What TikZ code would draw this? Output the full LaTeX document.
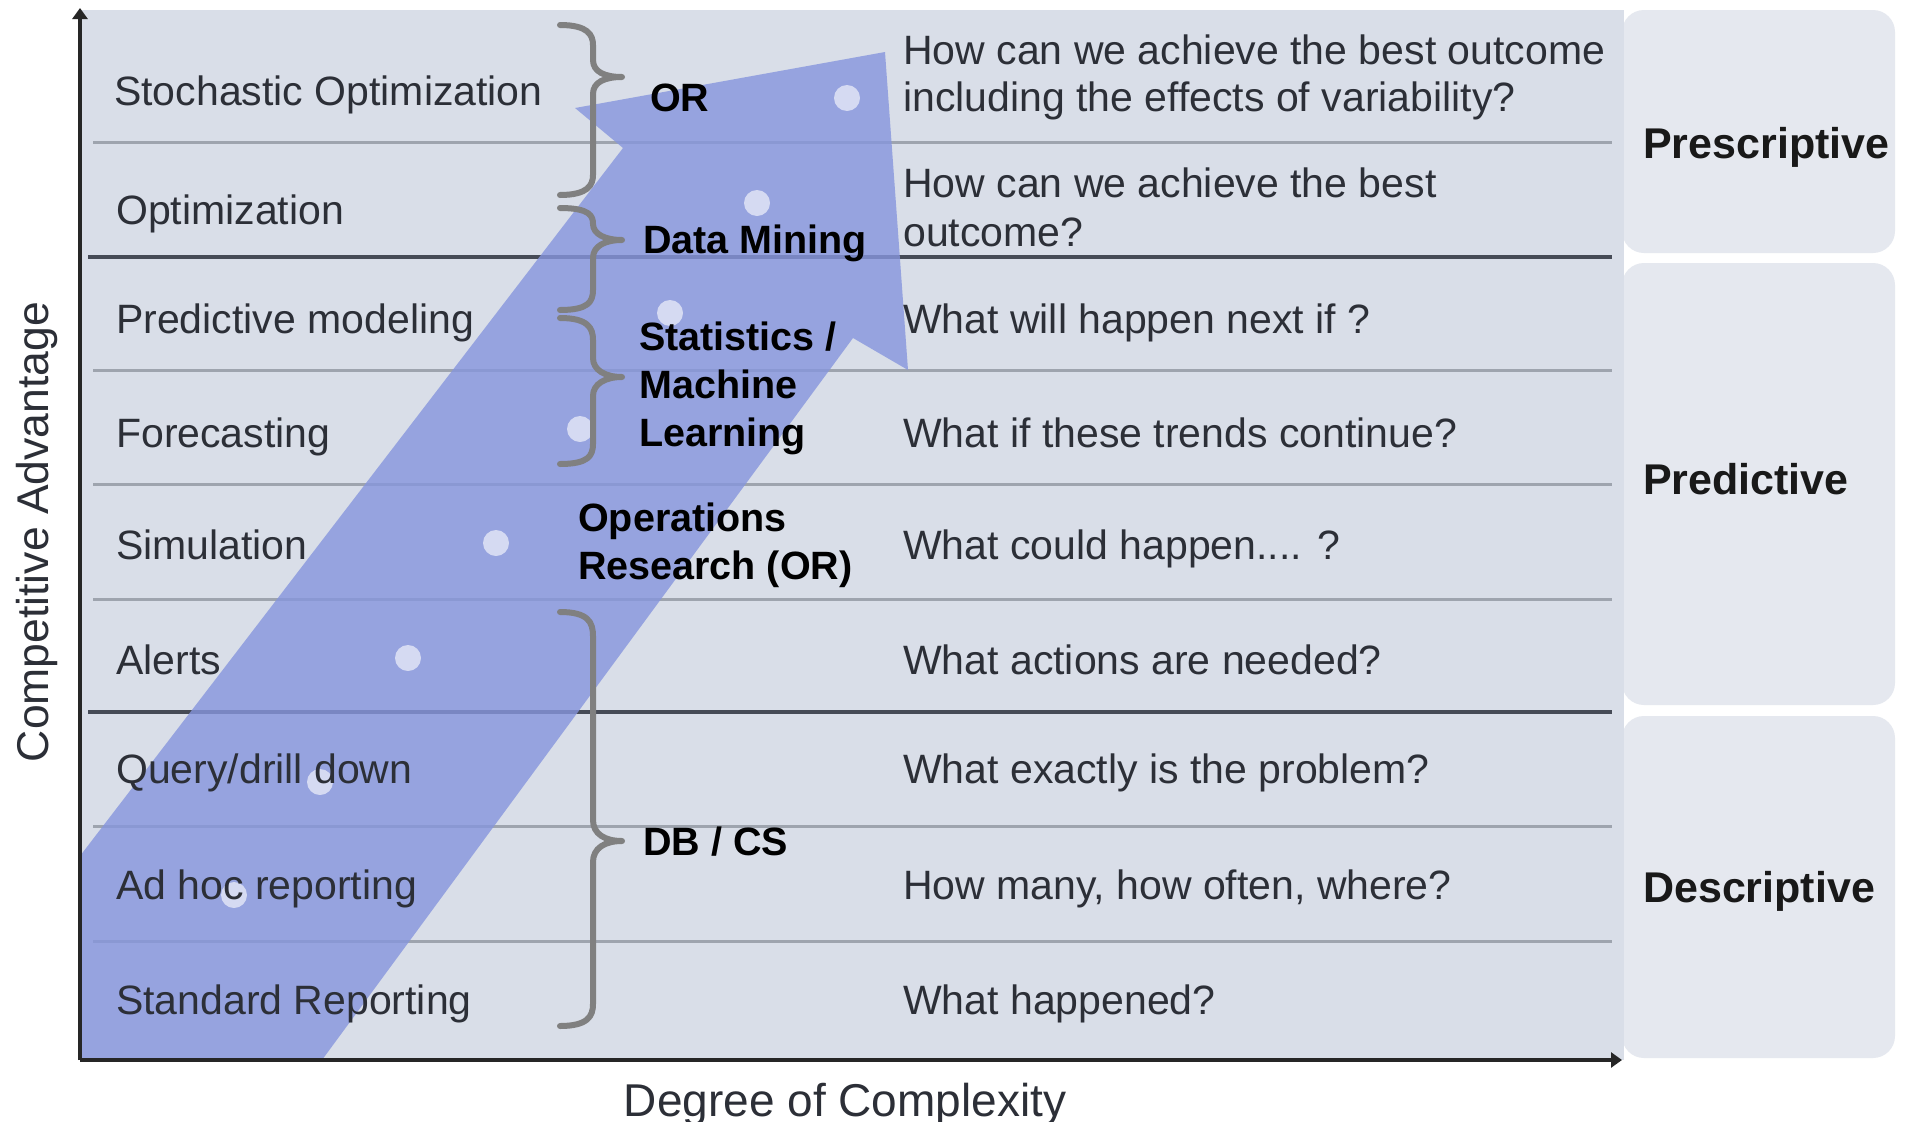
\documentclass[tikz,border=0pt]{standalone}
\usepackage{fontspec}
\setmainfont{Liberation Sans}
\usetikzlibrary{arrows.meta}
\definecolor{panel}{RGB}{217,222,232}
\definecolor{sidebox}{RGB}{229,232,239}
\definecolor{bandblue}{RGB}{134,149,221}
\definecolor{thinline}{RGB}{158,164,174}
\definecolor{thickline}{RGB}{70,75,86}
\definecolor{labelgrey}{RGB}{44,47,55}
\definecolor{bracegrey}{RGB}{128,128,128}
\begin{document}
\begin{tikzpicture}[x=1pt,y=-1pt,
  lbl/.style={anchor=base west, inner sep=0pt, text=labelgrey, font=\fontsize{41}{46}\selectfont},
  cat/.style={anchor=base west, inner sep=0pt, text=black!90, font=\fontsize{43}{48}\selectfont\bfseries},
  field/.style={anchor=base west, inner sep=0pt, text=black, font=\fontsize{39.5}{48}\selectfont\bfseries},
  axlbl/.style={inner sep=0pt, text=labelgrey, font=\fontsize{46}{50}\selectfont},
  thinrow/.style={draw=thinline, line width=3pt},
  thickrow/.style={draw=thickline, line width=4pt},
  bracestyle/.style={draw=bracegrey, line width=6pt, line cap=round, line join=round},
  axisline/.style={draw=black!85, line width=4pt, -{Triangle[length=11pt,width=15pt]}},
  dotstyle/.style={fill=white, fill opacity=0.6},
  sideboxstyle/.style={fill=sidebox, rounded corners=22pt},
]
\useasboundingbox (0,0) rectangle (1912,1122);
\fill[white] (0,0) rectangle (1912,1122);
% main panel
\fill[panel] (80,10) rectangle (1624,1060);
% side boxes
\fill[sideboxstyle] (1622,10) rectangle (1895,253);
\fill[sideboxstyle] (1622,263) rectangle (1895,705);
\fill[sideboxstyle] (1622,716) rectangle (1895,1058);
\fill[panel] (1600,10) rectangle (1624,1060);
% row lines
\foreach \yy in {142,370,484,599,826,941} \draw[thinrow] (93,\yy) -- (1612,\yy);
\foreach \yy in {257,712} \draw[thickrow] (88,\yy) -- (1612,\yy);
% blue band arrow
\fill[bandblue, fill opacity=0.8] (80,856) -- (623,148) -- (575,108) -- (885,52) -- (908,370) -- (853,338) -- (322,1060) -- (80,1060) -- cycle;
% dots
\foreach \dx/\dy in {847/98,757/203,670/313,580/429,496/543,408/658,320/782,234/895}
  \fill[dotstyle] (\dx,\dy) circle[radius=13pt];
% braces
\draw[bracestyle] (560,25) .. controls (588,25) and (593,35) .. (593,45) -- (593,60) .. controls (593,72) and (605,77) .. (622,77)
  .. controls (605,77) and (593,82) .. (593,94) -- (593,175) .. controls (593,185) and (588,195) .. (560,195);
\draw[bracestyle] (560,208) .. controls (590,208) and (593,216) .. (593,224) .. controls (593,234) and (605,240) .. (622,240)
  .. controls (605,240) and (593,246) .. (593,258) -- (593,290) .. controls (593,302) and (588,310) .. (560,310);
\draw[bracestyle] (560,318) .. controls (588,318) and (593,328) .. (593,340) -- (593,358) .. controls (593,370) and (605,377) .. (622,377)
  .. controls (605,377) and (593,384) .. (593,396) -- (593,444) .. controls (593,456) and (588,464) .. (560,464);
\draw[bracestyle] (560,612) .. controls (588,612) and (593,622) .. (593,636) -- (593,820) .. controls (593,834) and (605,841) .. (622,841)
  .. controls (605,841) and (593,848) .. (593,862) -- (593,1004) .. controls (593,1016) and (588,1026) .. (560,1026);
% left labels
\node[lbl] (l1) at (114,105) {Stochastic Optimization};
\node[lbl] (l2) at (116,224) {Optimization};
\node[lbl] (l3) at (116,333) {Predictive modeling};
\node[lbl] (l4) at (116,447) {Forecasting};
\node[lbl] (l5) at (116,559) {Simulation};
\node[lbl] (l6) at (116,674) {Alerts};
\node[lbl] (l7) at (116,783) {Query/drill down};
\node[lbl] (l8) at (116,899) {Ad hoc reporting};
\node[lbl] (l9) at (116,1014) {Standard Reporting};
% questions
\node[lbl] (q1a) at (903,64) {How can we achieve the best outcome};
\node[lbl] (q1b) at (903,111) {including the effects of variability?};
\node[lbl] (q2a) at (903,197) {How can we achieve the best};
\node[lbl] (q2b) at (903,246) {outcome?};
\node[lbl] (q3) at (903,333) {What will happen next if ?};
\node[lbl] (q4) at (903,447) {What if these trends continue?};
\node[lbl] (q5) at (903,559) {What could happen.... ?};
\node[lbl] (q6) at (903,674) {What actions are needed?};
\node[lbl] (q7) at (903,783) {What exactly is the problem?};
\node[lbl] (q8) at (903,899) {How many, how often, where?};
\node[lbl] (q9) at (903,1014) {What happened?};
% categories
\node[cat] (c1) at (1643,158) {Prescriptive};
\node[cat] (c2) at (1643,494) {Predictive};
\node[cat] (c3) at (1643,902) {Descriptive};
% fields
\node[field] (f1) at (650,111) {OR};
\node[field] (f2) at (643,253) {Data Mining};
\node[field] (f3a) at (639,350) {Statistics /};
\node[field] (f3b) at (639,398) {Machine};
\node[field] (f3c) at (639,446) {Learning};
\node[field] (f4a) at (578,531) {Operations};
\node[field] (f4b) at (578,579) {Research (OR)};
\node[field] (f5) at (643,855) {DB / CS};
% axes
\coordinate (O) at (80,1060);
\coordinate (ytop) at (80,8);
\coordinate (xend) at (1622,1060);
\draw[axisline] (O) -- (ytop);
\draw[axisline] (O) -- (xend);
\node[axlbl, anchor=base] (xl) at (845,1116) {Degree of Complexity};
\node[axlbl, anchor=base, rotate=90, font=\fontsize{44.5}{50}\selectfont] (yl) at (48,532) {Competitive Advantage};
\end{tikzpicture}
\end{document}
